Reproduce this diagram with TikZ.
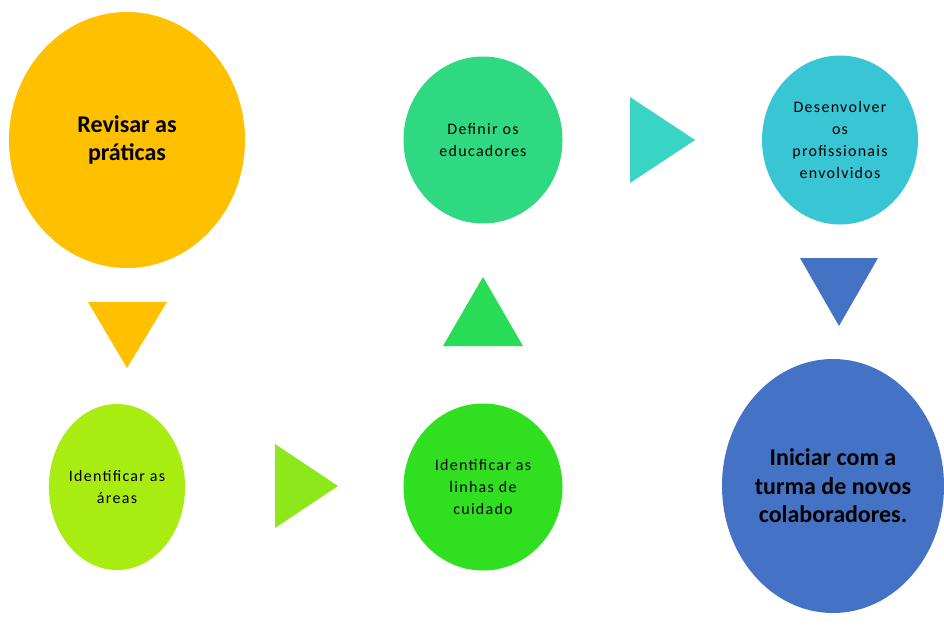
\documentclass[tikz,border=0pt]{standalone}
\usepackage{fontspec}
\setmainfont{Carlito}
\newfontfamily\smallfam[LetterSpace=8]{Carlito}
\usetikzlibrary{shapes.geometric}
\definecolor{corange}{HTML}{FFC000}
\definecolor{clime}{HTML}{A8EC12}
\definecolor{climetri}{HTML}{8CE81A}
\definecolor{cgreen}{HTML}{30E020}
\definecolor{cgreentri}{HTML}{28DC55}
\definecolor{cmint}{HTML}{2ED982}
\definecolor{ctealtri}{HTML}{3AD4C4}
\definecolor{ccyan}{HTML}{38C6D4}
\definecolor{cblue}{HTML}{4472C4}
\tikzset{
  blob/.style={ellipse, inner sep=0pt, align=center, text=black},
  bigtxt/.style={font=\fontsize{24}{28.5}\selectfont\bfseries},
  smalltxt/.style={font=\smallfam\fontsize{16}{22}\selectfont},
}
\begin{document}
\begin{tikzpicture}[x=1pt,y=-1pt]
\useasboundingbox (0,0) rectangle (944,640);
\fill[white] (0,0) rectangle (944,640);
% circles
\node[blob, bigtxt, fill=corange, minimum width=236pt, minimum height=256pt] (rev) at (127,140) {Revisar as\\práticas};
\node[blob, smalltxt, fill=clime, minimum width=134pt, minimum height=166pt] (areas) at (117,487) {Identificar as\\áreas};
\node[blob, smalltxt, fill=cgreen, minimum width=159pt, minimum height=167pt] (linhas) at (483,487) {Identificar as\\linhas de\\cuidado};
\node[blob, smalltxt, fill=cmint, minimum width=159pt, minimum height=167pt] (def) at (483,140) {Definir os\\educadores};
\node[blob, smalltxt, fill=ccyan, minimum width=156pt, minimum height=169pt] (des) at (840,140) {Desenvolver\\os\\profissionais\\envolvidos};
\node[blob, bigtxt, fill=cblue, minimum width=222pt, minimum height=254pt] (ini) at (833,486) {Iniciar com a\\turma de novos\\colaboradores.};
% triangles
\fill[corange] (88,302) -- (167,302) -- (127,368) -- cycle;
\fill[climetri] (275,444) -- (338,486) -- (275,528) -- cycle;
\fill[cgreentri] (443,346) -- (523,346) -- (483,277) -- cycle;
\fill[ctealtri] (630,97) -- (695,140) -- (630,183) -- cycle;
\fill[cblue] (800,258) -- (878,258) -- (839,326) -- cycle;
\end{tikzpicture}
\end{document}
